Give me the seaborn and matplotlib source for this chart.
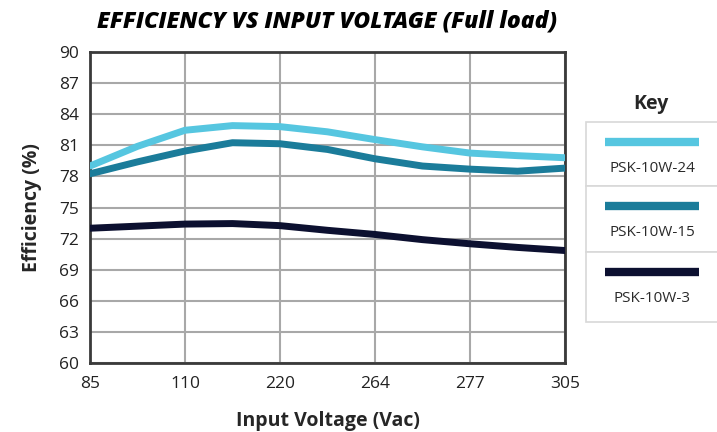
import numpy as np
import pandas as pd
import seaborn as sns
import matplotlib.pyplot as plt
from matplotlib.patches import Rectangle

# voltage categories (equally spaced on the chart)
voltages = ["85", "110", "220", "264", "277", "305"]
# positions, including half-way readings between ticks
pos = [0, 0.5, 1, 1.5, 2, 2.5, 3, 3.5, 4, 4.5, 5]
eff_24 = [79.0, 80.9, 82.45, 82.9, 82.8, 82.3, 81.55, 80.85, 80.25, 80.0, 79.8]
eff_15 = [78.25, 79.4, 80.45, 81.25, 81.15, 80.6, 79.7, 79.0, 78.7, 78.5, 78.8]
eff_3 = [73.0, 73.2, 73.4, 73.45, 73.25, 72.8, 72.4, 71.9, 71.5, 71.15, 70.85]
models = ["PSK-10W-24", "PSK-10W-15", "PSK-10W-3"]
colors = ["#56C6E0", "#1B7C9A", "#0C1030"]

df = pd.DataFrame({
    "pos": pos * 3,
    "eff": eff_24 + eff_15 + eff_3,
    "model": [models[0]] * len(pos) + [models[1]] * len(pos) + [models[2]] * len(pos),
})

sns.set_style("white")
plt.rcParams['font.family'] = ['Open Sans', 'DejaVu Sans']

fig = plt.figure(figsize=(7.17, 4.32), dpi=100)
ax = fig.add_axes([90 / 717, 1 - 363 / 432, (565 - 90) / 717, (363 - 52) / 432])

sns.lineplot(data=df, x="pos", y="eff", hue="model", palette=colors,
             linewidth=5, legend=False, ax=ax, zorder=3)

ax.set_xlim(0, 5)
ax.set_ylim(60, 90)
ax.set_xticks(range(len(voltages)))
ax.set_xticklabels(voltages)
ax.set_yticks(np.arange(60, 91, 3))
ax.grid(True, color="#A8A8A8", linewidth=1.5)
for s in ax.spines.values():
    s.set_color("#3A3A3A")
    s.set_linewidth(2)
ax.tick_params(axis="both", labelsize=12.5, length=0, colors="#222222")
ax.tick_params(axis="x", pad=9)
ax.tick_params(axis="y", pad=8)
ax.set_xlabel("Input Voltage (Vac)", fontsize=14, fontweight="bold", labelpad=14)
ax.set_ylabel("Efficiency (%)", fontsize=14, fontweight="bold", labelpad=12)

fig.text(327 / 717, 1 - 22 / 432, "EFFICIENCY VS INPUT VOLTAGE (Full load)",
         ha="center", va="center", fontsize=16.5, fontweight="heavy", style="italic",
         color="black")

# key panel on the right
kax = fig.add_axes([0, 0, 1, 1])
kax.set_xlim(0, 717)
kax.set_ylim(432, 0)
kax.axis("off")
kax.text(651, 104, "Key", ha="center", va="center", fontsize=14, fontweight="bold")
tops = [122, 186, 252]
bottoms = [186, 252, 322]
for i, m in enumerate(models):
    kax.add_patch(Rectangle((586, tops[i]), 140, bottoms[i] - tops[i],
                            facecolor="white", edgecolor="#D8D8D8", linewidth=1.2))
    ly = tops[i] + 20
    kax.plot([605, 699], [ly, ly], color=colors[i], linewidth=6, solid_capstyle="butt")
    kax.text(652, ly + 27, m, ha="center", va="center", fontsize=11, color="#2A2A2A")

fig.savefig("out.png", dpi=100)
